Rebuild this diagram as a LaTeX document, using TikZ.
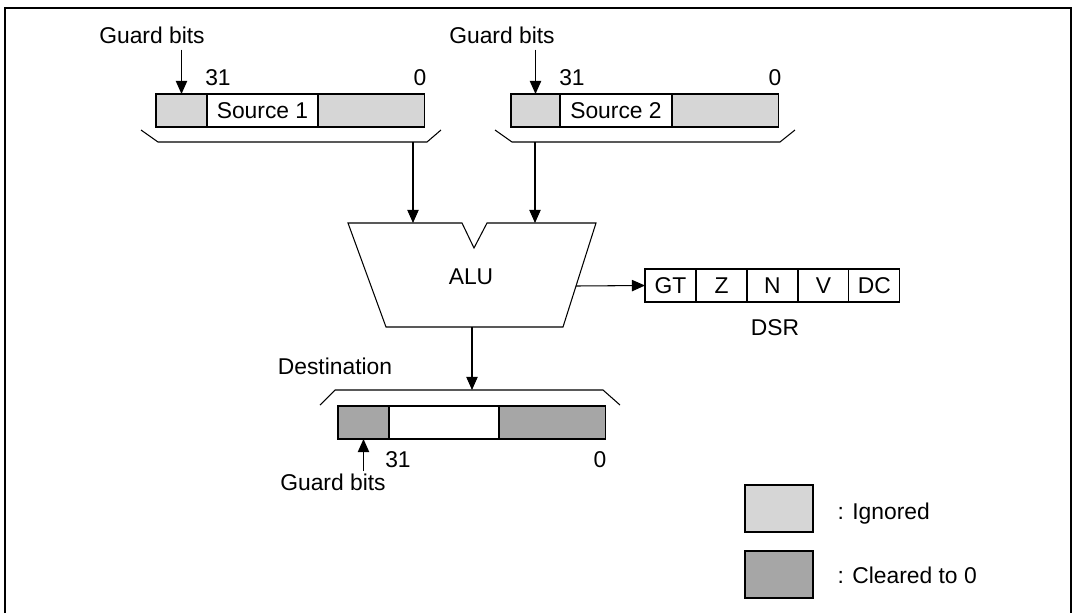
\documentclass[tikz,border=0pt]{standalone}
\usepackage{fontspec}
\setmainfont{Liberation Sans}
\usetikzlibrary{arrows.meta,positioning}

\begin{document}
\begin{tikzpicture}
[x = 0.02cm, y = -0.02cm, line width = 0.6pt,
 every node/.style = {font = \fontsize{13}{15}\selectfont},
 cell/.style = {draw, outer sep = 0pt, inner sep = 0pt, minimum height = 0.66cm},
 bit/.style = {anchor = base},
 ptr/.style = {-{Triangle[length = 7.5pt, width = 6.5pt]}}]

% Define field colors
\colorlet{igncolor}{black!16}
\colorlet{clrcolor}{black!35}

\useasboundingbox (0,0) rectangle (1073,613);
\draw[line width = 1.5pt] (5,613) -- (5,8) -- (1071,8) -- (1071,613);

%%%%%%%%%%% SOURCE 1
\node[cell, fill = igncolor, minimum width = 1.02cm] (s1g) at (181.5,110.5) {};
\node[cell, minimum width = 2.22cm, right = 0pt of s1g] (s1m) {Source 1};
\node[cell, fill = igncolor, minimum width = 2.14cm, right = 0pt of s1m] (s1r) {};
\node[bit] (s1hi) at (218,85) {31};
\node[bit] (s1lo) at (420,85) {0};
\node[bit] (s1gb) at (152,43) {Guard bits};
\draw[ptr] (s1gb.south -| s1g.north) -- (s1g.north);
\draw (141,130) -- (158,142) -- (427,142) -- (441,130);
\coordinate (s1out) at (413,142);

%%%%%%%%%%% SOURCE 2
\node[cell, fill = igncolor, minimum width = 0.98cm] (s2g) at (535.5,110.5) {};
\node[cell, minimum width = 2.24cm, right = 0pt of s2g] (s2m) {Source 2};
\node[cell, fill = igncolor, minimum width = 2.14cm, right = 0pt of s2m] (s2r) {};
\node[bit] (s2hi) at (572,85) {31};
\node[bit] (s2lo) at (775,85) {0};
\node[bit] (s2gb) at (502,43) {Guard bits};
\draw[ptr] (s2gb.south -| s2g.north) -- (s2g.north);
\draw (495,130) -- (512,142) -- (780,142) -- (795,130);
\coordinate (s2out) at (535,142);

%%%%%%%%%%% ALU
\draw (348,223) -- (462,223) -- (474,248) -- (487,223) -- (596,223)
      -- (563,327) -- (386,327) -- cycle;
\node[bit] (alu) at (471,284) {ALU};
\coordinate (alu in1) at (413,223);
\coordinate (alu in2) at (535,223);
\coordinate (alu out) at (576,286);
\coordinate (alu res) at (472,327);
\draw[ptr] (s1out) -- (alu in1);
\draw[ptr] (s2out) -- (alu in2);

%%%%%%%%%%% DSR
\node[cell, minimum width = 1.02cm] (gt) at (670.5,285.5) {GT};
\node[cell, minimum width = 1.02cm, right = 0pt of gt] (z) {Z};
\node[cell, minimum width = 1.02cm, right = 0pt of z] (n) {N};
\node[cell, minimum width = 1.02cm, right = 0pt of n] (v) {V};
\node[cell, minimum width = 1.02cm, right = 0pt of v] (dc) {DC};
\draw[line width = 1.1pt] (z.north west) rectangle (n.south east);
\node[bit] (dsr) at (775,335) {DSR};
\draw[ptr] (alu out) -- (gt.west);

%%%%%%%%%%% DESTINATION
\node[bit] (dstlbl) at (335,374) {Destination};
\draw (320,405) -- (335,390) -- (603,390) -- (620,405);
\coordinate (dst in) at (472,390);
\draw[ptr] (alu res) -- (dst in);
\node[cell, fill = clrcolor, minimum width = 1.02cm] (dg) at (363.5,422.5) {};
\node[cell, minimum width = 2.2cm, right = 0pt of dg] (dm) {};
\node[cell, fill = clrcolor, minimum width = 2.14cm, right = 0pt of dm] (dr) {};
\node[bit] (dhi) at (398,467) {31};
\node[bit] (dlo) at (600,467) {0};
\node[bit, inner sep = 1pt] (dgb) at (333,490) {Guard bits};
\draw[ptr] (dgb.north -| dg.south) -- (dg.south);

%%%%%%%%%%% LEGEND
\node[cell, fill = igncolor, minimum width = 1.36cm, minimum height = 0.94cm] (ign) at (779,508.5) {};
\node[cell, fill = clrcolor, minimum width = 1.36cm, minimum height = 0.94cm] (clr) at (779,574.5) {};
\node[anchor = base west, inner sep = 0pt] (ignlbl) at (837,519) {: Ignored};
\node[anchor = base west, inner sep = 0pt] (clrlbl) at (837,583) {: Cleared to 0};

\end{tikzpicture}
\end{document}
